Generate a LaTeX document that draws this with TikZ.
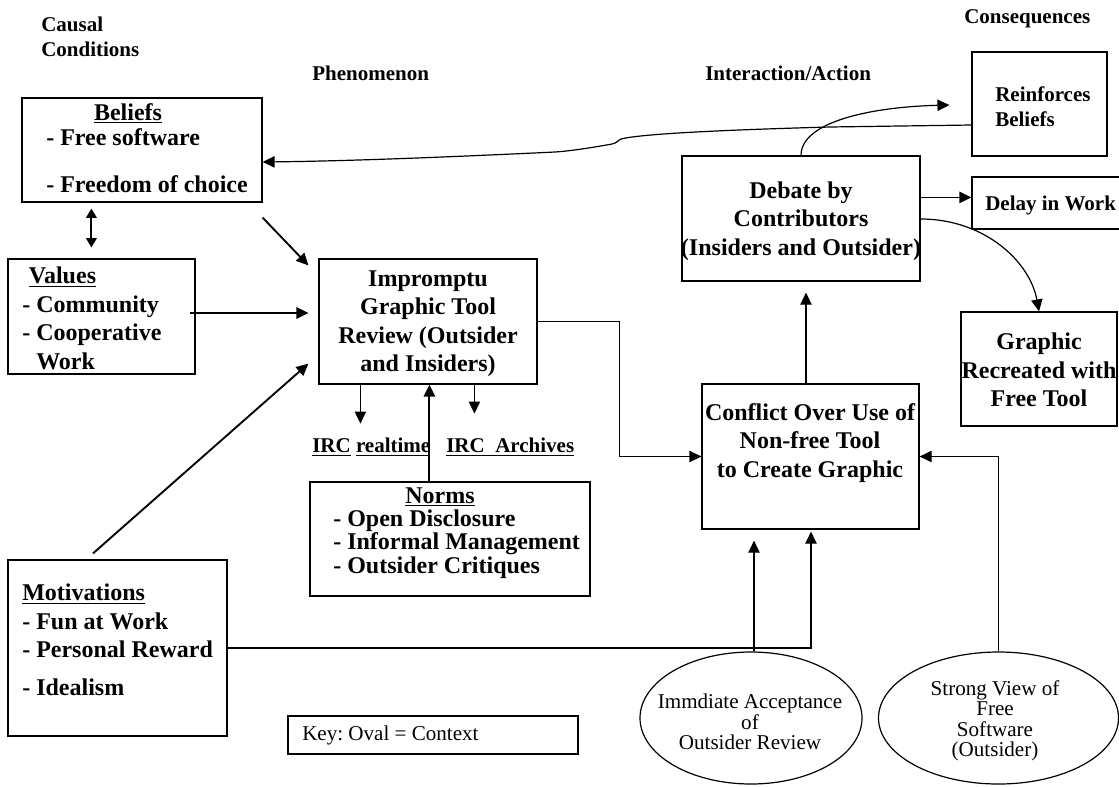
\documentclass[tikz,border=0pt]{standalone}
\usepackage{fontspec}
\setmainfont{Liberation Serif}
\usetikzlibrary{arrows.meta,calc,fit,shapes.geometric}
\frenchspacing
\begin{document}
\begin{tikzpicture}[x=0.75pt,y=-0.75pt,
  box/.style={draw,line width=0.9pt,inner sep=0pt},
  oval/.style={draw,ellipse,line width=0.9pt,inner sep=0pt},
  big/.style={font=\fontsize{18}{21.4}\selectfont\bfseries,inner sep=0pt},
  normsfont/.style={font=\fontsize{18}{17.6}\selectfont\bfseries,inner sep=0pt},
  head/.style={font=\fontsize{15.75}{18.75}\selectfont\bfseries,inner sep=0pt},
  plain/.style={font=\fontsize{15.8}{15.4}\selectfont,inner sep=0pt},
  con/.style={line width=0.9pt,-{Triangle[length=9pt,width=8.5pt]}},
  heavy/.style={line width=1.4pt,-{Triangle[length=9pt,width=8.5pt]}},
]
\useasboundingbox (0,0) rectangle (1119,786);

% column headings
\node[head,anchor=west,align=left] (causal) at (41,37) {Causal\\Conditions};
\node[head,anchor=west] (phen) at (312,73) {Phenomenon};
\node[head,anchor=west] (inter) at (705,73) {Interaction/Action};
\node[head,anchor=west] (conseq) at (964,19) {Consequences};

% causal conditions
\node[box,fit={(22,98) (262,202)}] (beliefs) {};
\node[big] (beliefs-h) at (128,113) {\underline{Beliefs}};
\node[big,anchor=west,align=left] (beliefs-t) at (46,160.5) {- Free software\\[14pt]- Freedom of choice};

\node[box,fit={(8,259) (195,374)}] (values) {};
\node[big,anchor=west,align=left] (values-t) at (22,318.5)
  {\hspace*{5pt}\underline{Values}\\- Community\\- Cooperative\\\hspace*{10.5pt}Work};

\node[box,fit={(8,560) (227,736)}] (motiv) {};
\node[big,anchor=west,align=left] (motiv-t) at (22,640)
  {\underline{Motivations}\\- Fun at Work\\- Personal Reward\\[7pt]- Idealism};

% phenomenon
\node[box,fit={(319,259) (537,384)}] (review) {};
\node[big,align=center] (review-t) at (428,323.5)
  {Impromptu\\Graphic Tool\\Review (Outsider\\and Insiders)};

\node[head,anchor=west] (irc-rt) at (312,447) {\underline{IRC} \underline{realtime}};
\node[head,anchor=west] (irc-ar) at (446,447) {\underline{IRC\ \ Archives}};

\node[box,fit={(310,482) (590,596)}] (norms) {};
\node[big] (norms-h) at (440,497) {\underline{Norms}};
\node[normsfont,anchor=west,align=left] (norms-t) at (333,544)
  {- Open Disclosure\\- Informal Management\\- Outsider Critiques};

\node[box,fit={(288,716) (578,754)}] (key) {};
\node[plain,anchor=west] (key-t) at (302,735) {Key: Oval = Context};

% interaction / action
\node[box,fit={(682,156) (920,281)}] (debate) {};
\node[big,align=center] (debate-t) at (801,221)
  {Debate by\\Contributors\\(Insiders and Outsider)};

\node[box,fit={(702,384) (919,529)}] (conflict) {};
\node[big,align=center] (conflict-t) at (810,443)
  {Conflict Over Use of\\Non-free Tool\\to Create Graphic};

% context ovals
\node[oval,minimum width=166.5pt,minimum height=99pt] (imm) at (751,718) {};
\node[plain,align=center] (imm-t) at (750,722) {Immdiate Acceptance\\of\\Outsider Review};
\node[oval,minimum width=180pt,minimum height=99pt] (strong) at (998.5,718) {};
\node[plain,align=center] (strong-t) at (995,721) {Strong View of\\Free\\Software\\(Outsider)};

% consequences
\node[box,fit={(972,52) (1107,156)}] (reinf) {};
\node[head,anchor=west,align=left] (reinf-t) at (995,106.5) {Reinforces\\Beliefs};
\node[box,fit={(972,177) (1135,229)}] (delay) {};
\node[head,anchor=west] (delay-t) at (985,205) {Delay in Work};
\node[box,fit={(961,312) (1117,426)}] (graphic) {};
\node[big,align=center] (graphic-t) at (1039,370) {Graphic\\Recreated with\\Free Tool};

% connectors on the left
\draw[line width=1.4pt,{Triangle[length=7pt,width=8pt]}-{Triangle[length=7pt,width=8pt]}]
  ($(beliefs.south west)+(70,6)$) -- ($(values.north west)+(84,-11)$);
\draw[heavy] ($(beliefs.south east)+(0,15)$) -- ($(review.north west)+(-10,7)$);
\draw[heavy] ($(values.east)+(-6,-3.5)$) -- ($(review.west)+(-10,-8.5)$);
\draw[heavy] ($(motiv.north)+(-24.5,-6)$) -- ($(review.south west)+(-10,-21)$);

% review outputs and norms
\draw[con] ($(review.south west)+(42,0)$) -- ++(0,39);
\draw[con] ($(review.south west)+(156,0)$) -- ++(0,29);
\coordinate (nt) at ($(norms.north west)+(120,0)$);
\draw[heavy] (nt) -- (nt |- review.south);
\draw[con] (review.east) -- ++(82,0) |- (conflict.west);

% into the conflict
\draw[con] ($(imm.north)+(3,0)$) -- ($(conflict.south)+(-56.5,11)$);
\draw[con] (motiv.east) -| ($(conflict.south)+(0.5,2)$);
\draw[con] (strong.north) |- (conflict.east);
\draw[con] ($(conflict.north)+(-4.5,0)$) -- ($(debate.south)+(5,11)$);

% consequences of the debate
\draw[con] ($(debate.north east)+(0,42)$) -- ($(delay.north west)+(0,21)$);
\draw[con] ($(debate.east)+(0,0.5)$) .. controls (985,219) and (1030,262) .. (graphic.north);
\draw[con] (debate.north) .. controls (801,122) and (870,107) .. ($(reinf.west)+(-22,1)$);

% feedback to beliefs
\draw[con] ($(reinf.west)+(0,21)$) -- (830,127)
  .. controls (720,130) and (640,134) .. (621,139)
  .. controls (617,141) and (617,143) .. (612,144)
  .. controls (590,148) and (570,151) .. (555,152)
  .. controls (450,157) and (350,161) .. ($(beliefs.east)+(0,12)$);
\end{tikzpicture}
\end{document}
